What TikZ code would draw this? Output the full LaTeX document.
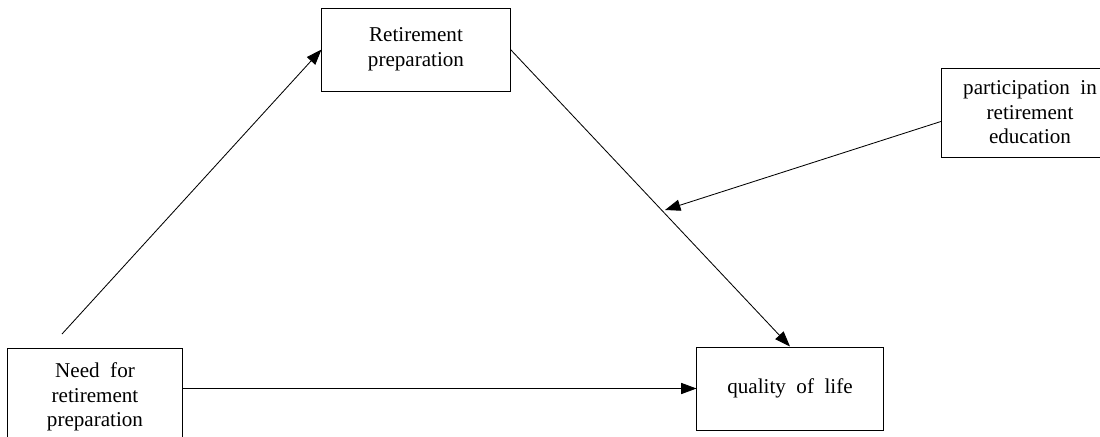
\documentclass[tikz,border=0pt]{standalone}
\usepackage{fontspec}
\setmainfont{Liberation Serif}
\usetikzlibrary{arrows.meta}

\tikzset{
    box/.style={draw, line width=0.7pt, align=center, inner sep=2pt,
        font=\fontsize{15}{17.5}\selectfont},
    arr/.style={line width=0.6pt, -{Triangle[length=11pt, width=8pt]}}
}

\begin{document}
\begin{tikzpicture}[x=0.025cm, y=-0.025cm]
    \useasboundingbox (0, 0) rectangle (1100, 436);

    % boxes
    \node[box, minimum width=4.7cm, minimum height=2.075cm] (ret) at (416, 49.5) {Retirement\\preparation};
    \node[box, minimum width=4.4cm, minimum height=2.225cm] (part) at (1030, 112.5) {participation\ \ in\\retirement\\education};
    \node[box, minimum width=4.65cm, minimum height=2.075cm] (qol) at (790, 388.5) {quality\ \ of\ \ life};
    \node[box, minimum width=4.35cm, minimum height=2.45cm] (need) at (95, 397) {Need\ \ for\\retirement\\preparation};

    % free ends
    \coordinate (start) at (62, 334);
    \coordinate (mid) at (665, 210);

    % arrows
    \draw[arr] (start) -- (ret.west);
    \draw[arr] (ret.east) -- (qol.north);
    \draw[arr] (need.east |- qol.west) -- (qol.west);
    \draw[arr] ([yshift=-0.22cm]part.west) -- (mid);
\end{tikzpicture}
\end{document}
